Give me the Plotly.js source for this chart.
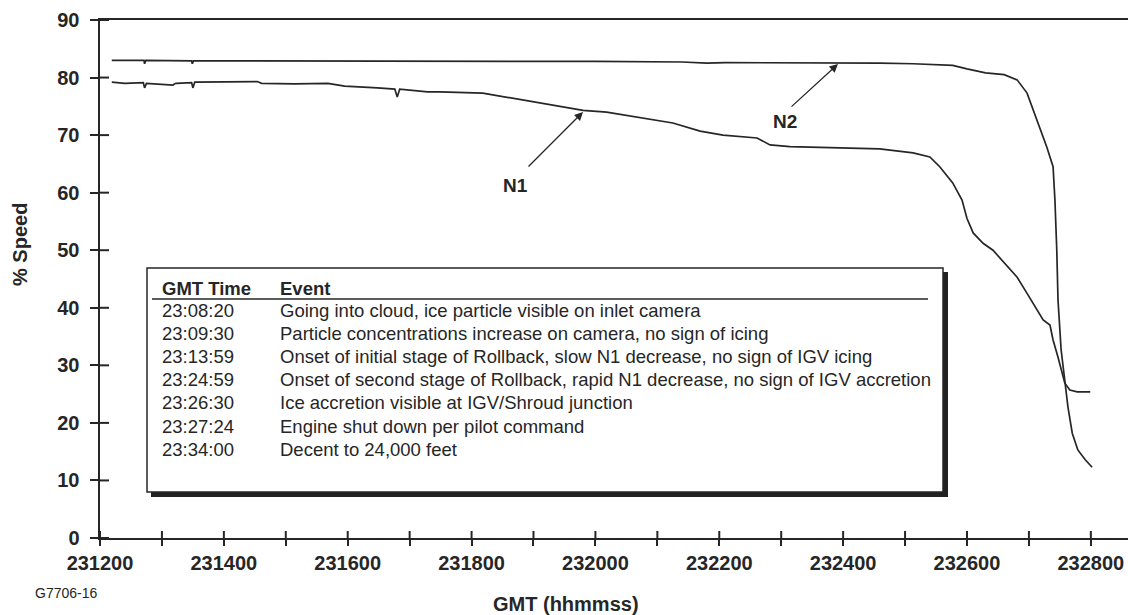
<!DOCTYPE html>
<html>
<head>
<meta charset="utf-8">
<script src="https://cdn.plot.ly/plotly-3.0.1.min.js"></script>
<style>html,body{margin:0;padding:0;background:#fff;}#chart{width:1128px;height:615px;}</style>
</head>
<body>
<div id="chart"></div>
<script>
// ---- data ----
const n1Time = [231219, 231240, 231270, 231272, 231275, 231318, 231320, 231323, 231348, 231350, 231353, 231400, 231454, 231461, 231514, 231568, 231595, 231648, 231676, 231680, 231684, 231729, 231749, 231818, 231883, 231938, 231980, 232018, 232072, 232125, 232169, 232206, 232261, 232282, 232314, 232400, 232459, 232513, 232540, 232556, 232577, 232592, 232600, 232610, 232626, 232642, 232664, 232681, 232697, 232713, 232723, 232734, 232739, 232747, 232755, 232758, 232766, 232778, 232799];
const n1Speed = [79.2, 79.0, 79.1, 78.2, 79.0, 78.7, 78.9, 79.0, 79.1, 78.2, 79.2, 79.2, 79.3, 79.0, 78.9, 79.0, 78.5, 78.2, 78.0, 76.6, 78.0, 77.5, 77.5, 77.3, 76.1, 75.2, 74.3, 74.0, 73.0, 72.1, 70.7, 70.0, 69.5, 68.3, 68.0, 67.7, 67.6, 66.9, 66.2, 64.5, 61.7, 58.7, 55.5, 53.0, 51.2, 50.0, 47.4, 45.3, 42.5, 39.6, 37.9, 37.0, 34.4, 31.4, 28.0, 26.9, 25.7, 25.4, 25.4];
const n2Time = [231219, 231271, 231272, 231274, 231348, 231349, 231351, 231600, 232000, 232140, 232180, 232210, 232300, 232459, 232513, 232540, 232577, 232600, 232630, 232660, 232681, 232697, 232713, 232729, 232739, 232742, 232745, 232747, 232752, 232757, 232763, 232770, 232779, 232791, 232802];
const n2Speed = [83.0, 83.0, 82.4, 83.0, 82.9, 82.4, 82.9, 82.9, 82.8, 82.7, 82.5, 82.6, 82.6, 82.5, 82.4, 82.3, 82.1, 81.5, 80.8, 80.5, 79.6, 77.3, 72.6, 67.9, 64.5, 58.7, 50.0, 41.3, 32.7, 28.0, 22.8, 18.2, 15.3, 13.6, 12.3];

const eventTimes = ["23:08:20", "23:09:30", "23:13:59", "23:24:59", "23:26:30", "23:27:24", "23:34:00"];
const eventTexts = [
  "Going into cloud, ice particle visible on inlet camera",
  "Particle concentrations increase on camera, no sign of icing",
  "Onset of initial stage of Rollback, slow N1 decrease, no sign of IGV icing",
  "Onset of second stage of Rollback, rapid N1 decrease, no sign of IGV accretion",
  "Ice accretion visible at IGV/Shroud junction",
  "Engine shut down per pilot command",
  "Decent to 24,000 feet"
];
const tableHeaders = ["GMT Time", "Event"];
const xTickVals = [231200, 231300, 231400, 231500, 231600, 231700, 231800, 231900, 232000, 232100, 232200, 232300, 232400, 232500, 232600, 232700, 232800];
const yTickVals = [0, 10, 20, 30, 40, 50, 60, 70, 80, 90];
const xTitle = "GMT (hhmmss)";
const yTitle = "% Speed";
const figId = "G7706-16";

// ---- layout helpers (pixel -> paper) ----
const ML = 100, MT = 20, PW = 1028, PH = 518;
const PX = p => (p - ML) / PW;
const PY = p => (MT + PH - p) / PH;

const INK = '#262626';
const FONT = 'Liberation Sans, Arial, Helvetica, sans-serif';

const traces = [
  {x: n1Time, y: n1Speed, name: 'N1', mode: 'lines', line: {color: INK, width: 1.7}, hoverinfo: 'skip', showlegend: false},
  {x: n2Time, y: n2Speed, name: 'N2', mode: 'lines', line: {color: INK, width: 1.7}, hoverinfo: 'skip', showlegend: false}
];

const annotations = [];
const tfont = {family: FONT, size: 18.5, color: INK};
annotations.push({xref: 'paper', yref: 'paper', x: PX(160), y: PY(288), xanchor: 'left', yanchor: 'middle',
  text: '<b>' + tableHeaders[0] + '</b>', showarrow: false, font: tfont});
annotations.push({xref: 'paper', yref: 'paper', x: PX(278), y: PY(288), xanchor: 'left', yanchor: 'middle',
  text: '<b>' + tableHeaders[1] + '</b>', showarrow: false, font: tfont});
eventTimes.forEach((t, i) => {
  const yy = PY(310 + i * 23.2);
  annotations.push({xref: 'paper', yref: 'paper', x: PX(160), y: yy, xanchor: 'left', yanchor: 'middle',
    text: t, showarrow: false, font: tfont});
  annotations.push({xref: 'paper', yref: 'paper', x: PX(278), y: yy, xanchor: 'left', yanchor: 'middle',
    text: eventTexts[i], showarrow: false, font: tfont});
});
// N1 / N2 labels and arrows
annotations.push({xref: 'paper', yref: 'paper', x: PX(515), y: PY(185), xanchor: 'center', yanchor: 'middle',
  text: '<b>N1</b>', showarrow: false, font: {family: FONT, size: 19, color: INK}});
annotations.push({xref: 'paper', yref: 'paper', x: PX(583), y: PY(112), ax: 527 - 583, ay: 168 - 112, text: '',
  showarrow: true, arrowhead: 2, arrowsize: 1.3, arrowwidth: 1.3, arrowcolor: INK});
annotations.push({xref: 'paper', yref: 'paper', x: PX(785), y: PY(121), xanchor: 'center', yanchor: 'middle',
  text: '<b>N2</b>', showarrow: false, font: {family: FONT, size: 19, color: INK}});
annotations.push({xref: 'paper', yref: 'paper', x: PX(838), y: PY(64), ax: 790 - 838, ay: 108 - 64, text: '',
  showarrow: true, arrowhead: 2, arrowsize: 1.3, arrowwidth: 1.3, arrowcolor: INK});
// titles
annotations.push({xref: 'paper', yref: 'paper', x: PX(566), y: PY(604), xanchor: 'center', yanchor: 'middle',
  text: '<b>' + xTitle + '</b>', showarrow: false, font: {family: FONT, size: 20, color: INK}});
annotations.push({xref: 'paper', yref: 'paper', x: PX(20), y: PY(245), xanchor: 'center', yanchor: 'middle',
  text: '<b>' + yTitle + '</b>', textangle: -90, showarrow: false, font: {family: FONT, size: 20, color: INK}});
annotations.push({xref: 'paper', yref: 'paper', x: PX(33), y: PY(593), xanchor: 'left', yanchor: 'middle',
  text: figId, showarrow: false, font: {family: FONT, size: 14, color: INK}});

const shapes = [];
// inner halves of the crossing ticks
yTickVals.forEach(v => shapes.push({type: 'line', xref: 'paper', yref: 'y', x0: 0, x1: 9 / PW, y0: v, y1: v,
  line: {color: INK, width: 2}, layer: 'above'}));
xTickVals.forEach(v => shapes.push({type: 'line', xref: 'x', yref: 'paper', x0: v, x1: v, y0: 0, y1: 7 / PH,
  line: {color: INK, width: 2}, layer: 'above'}));
// event table box with drop shadow
shapes.push({type: 'rect', xref: 'paper', yref: 'paper', x0: PX(151), x1: PX(948), y0: PY(497), y1: PY(272),
  fillcolor: '#222', line: {width: 0}, layer: 'above'});
shapes.push({type: 'rect', xref: 'paper', yref: 'paper', x0: PX(147), x1: PX(943), y0: PY(492), y1: PY(268),
  fillcolor: '#fff', line: {color: INK, width: 1.5}, layer: 'above'});
shapes.push({type: 'line', xref: 'paper', yref: 'paper', x0: PX(152), x1: PX(928), y0: PY(299), y1: PY(299),
  line: {color: INK, width: 1.3}, layer: 'above'});

const tickFont = {family: FONT, size: 20, color: INK, weight: 'bold'};

const layout = {
  width: 1128, height: 615,
  margin: {l: ML, r: 0, t: MT, b: 615 - MT - PH, pad: 0},
  paper_bgcolor: '#fff', plot_bgcolor: '#fff',
  showlegend: false,
  xaxis: {
    range: [231200, 232860], autorange: false, tickmode: 'linear', tick0: 231200, dtick: 200, tickformat: 'd',
    ticks: 'outside', ticklen: 6, tickwidth: 2, tickcolor: INK,
    minor: {tickmode: 'linear', tick0: 231200, dtick: 100, ticks: 'outside', ticklen: 6, tickwidth: 2, tickcolor: INK, showgrid: false},
    showline: true, linewidth: 2, linecolor: INK, mirror: true,
    showgrid: false, zeroline: false, tickfont: tickFont, ticklabelstandoff: 0, automargin: false
  },
  yaxis: {
    range: [0, 90], autorange: false, tickmode: 'linear', tick0: 0, dtick: 10,
    ticks: 'outside', ticklen: 8, tickwidth: 2, tickcolor: INK,
    showline: true, linewidth: 2.5, linecolor: INK,
    showgrid: false, zeroline: false, tickfont: tickFont, ticklabelstandoff: 6, automargin: false
  },
  annotations: annotations,
  shapes: shapes
};

Plotly.newPlot('chart', traces, layout, {displayModeBar: false, staticPlot: true});
</script>
</body>
</html>
